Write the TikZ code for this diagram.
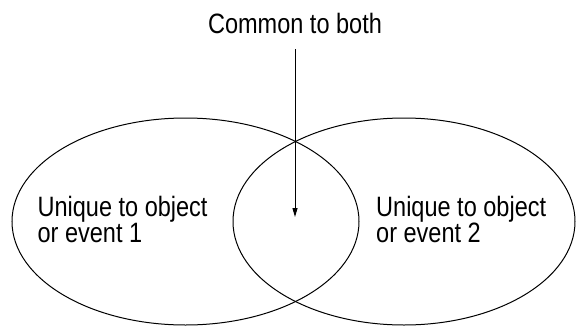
\documentclass[tikz,border=0pt]{standalone}
\usepackage{fontspec}
\setmainfont[FakeStretch=0.84]{Liberation Sans}
\usetikzlibrary{shapes.geometric,arrows.meta}
\begin{document}
\begin{tikzpicture}[x=1pt,y=-1pt,
  venn/.style={ellipse,draw,line width=1pt,inner sep=0pt,minimum height=207pt},
  lbl/.style={font=\fontsize{28}{25.7}\selectfont,inner sep=0pt,align=left},
  arr/.style={line width=1pt,-{Triangle[length=9pt,width=5pt]}}]
\useasboundingbox (0,0) rectangle (576,327);
\node[venn,minimum width=347pt] (L) at (185.5,221.5) {};
\node[venn,minimum width=342pt] (R) at (404,221.5) {};
\node[lbl,anchor=base] (top) at (295,33.3) {Common to both};
\node[lbl,anchor=north west] (t1) at (37.4,196.5) {Unique to object\\or event 1};
\node[lbl,anchor=north west] (t2) at (376,196.5) {Unique to object\\or event 2};
\coordinate (tip) at (295,217);
\draw[arr] ([yshift=-15.7pt]top.south) -- (tip);
\end{tikzpicture}
\end{document}
